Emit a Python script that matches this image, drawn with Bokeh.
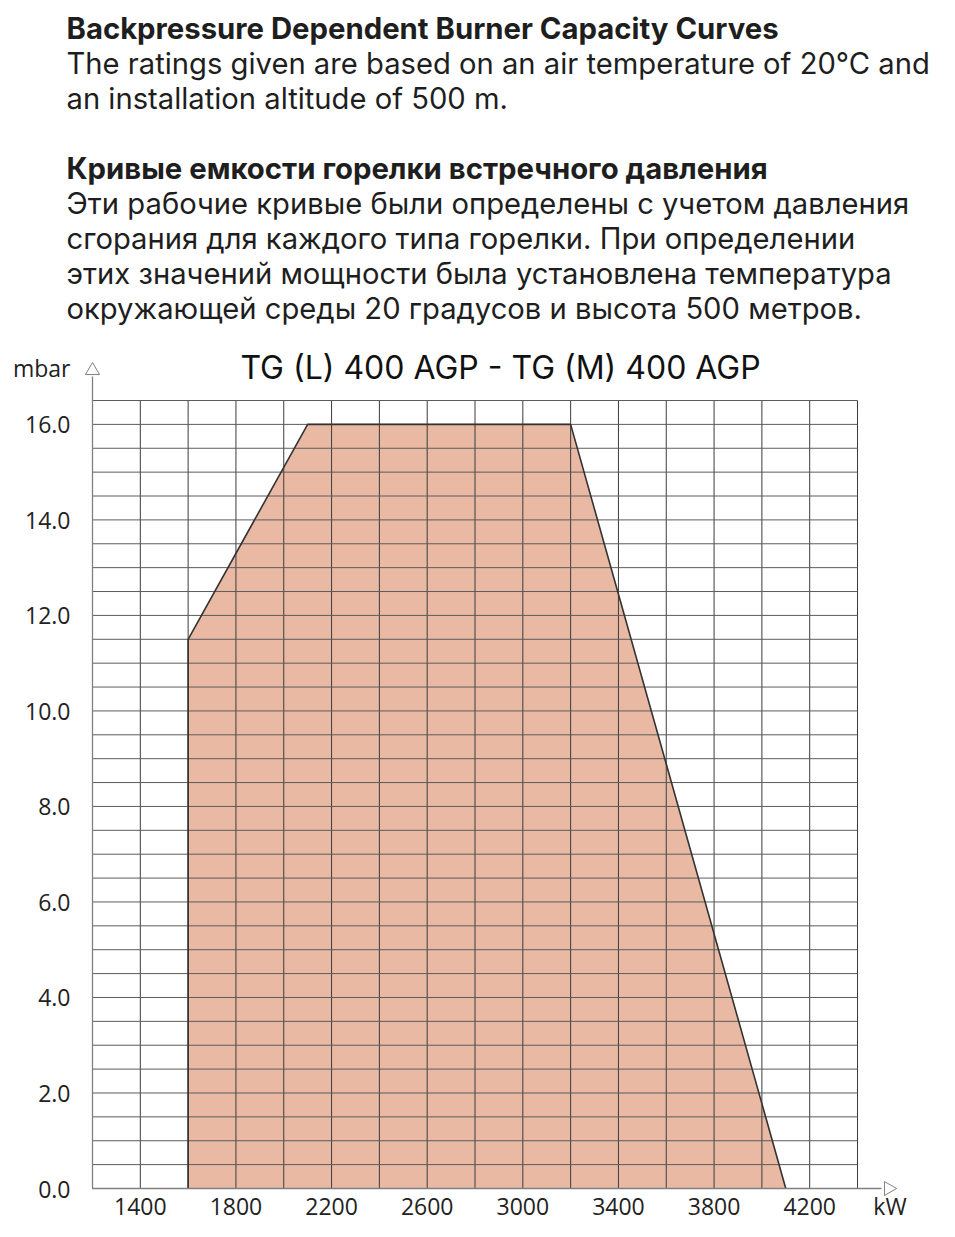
import math
from bokeh.plotting import figure
from bokeh.layouts import column
from bokeh.models import FixedTicker, PrintfTickFormatter, Range1d, Plot
from bokeh.core.properties import value
from bokeh.embed import file_html
from bokeh.resources import INLINE

# ---- data ----
capacity_kw = [1600, 1600, 2100, 3200, 4100]
pressure_mbar = [0.0, 11.5, 16.0, 16.0, 0.0]

x_tick_labels = [1400, 1800, 2200, 2600, 3000, 3400, 3800, 4200]
y_tick_labels = [0, 2, 4, 6, 8, 10, 12, 14, 16]
x_grid = list(range(1200, 4401, 200))
y_grid = [i * 0.5 for i in range(0, 34)]

chart_title = "TG (L) 400 AGP - TG (M) 400 AGP"
y_unit = "mbar"
x_unit = "kW"
header_en_bold = "Backpressure Dependent Burner Capacity Curves"
header_en = ["The ratings given are based on an air temperature of 20°C and",
             "an installation altitude of 500 m."]
header_ru_bold = "Кривые емкости горелки встречного давления"
header_ru = ["Эти рабочие кривые были определены с учетом давления",
             "сгорания для каждого типа горелки. При определении",
             "этих значений мощности была установлена температура",
             "окружающей среды 20 градусов и высота 500 метров."]

# ---- page geometry ----
PAGE_W = 950
HEAD_H = 335
MAIN_H = 895
X0, X1, Y1 = 1200, 4400, 16.5          # chart area (data)
CL, CR, CB, CT = 92, 857, 1188, 400     # page px of chart area
FL, FR, FT, FB = 84, 918, 340, 1196     # page px of plot frame
SX = (CR - CL) / (X1 - X0)
SY = (CB - CT) / Y1


def px_to_x(px):
    return X0 + (px - CL) / SX


def py_to_y(py):
    return (CB - py) / SY


TEXT = "#1e1e1e"
HFONT = "Inter"
TFONT = "Open Sans"

# ---- header figure (data units == page pixels) ----
hd = figure(width=PAGE_W, height=HEAD_H, x_range=Range1d(0, PAGE_W),
            y_range=Range1d(HEAD_H, 0), x_axis_type=None, y_axis_type=None,
            output_backend="svg", toolbar_location=None, title=None,
            min_border_left=0, min_border_right=0, min_border_top=0,
            min_border_bottom=0)
hd.outline_line_color = None
hd.xgrid.visible = False
hd.ygrid.visible = False

bold_lines = [header_en_bold, header_ru_bold]
bold_y = [28, 168]
reg_lines = header_en + header_ru
reg_y = [63, 98, 203, 238, 273, 308]
hd.text(x=[66] * len(bold_lines), y=bold_y, text=bold_lines,
        text_font=value(HFONT), text_font_style="bold", text_font_size="29.3px",
        text_color=TEXT, text_baseline="middle", text_align="left")
hd.text(x=[66] * len(reg_lines), y=reg_y, text=reg_lines,
        text_font=value(HFONT), text_font_size="29.2px",
        text_color=TEXT, text_baseline="middle", text_align="left")

# ---- chart figure ----
top0 = HEAD_H
p = figure(width=PAGE_W, height=MAIN_H,
           x_range=Range1d(px_to_x(FL), px_to_x(FR)),
           y_range=Range1d(py_to_y(FB), py_to_y(FT)),
           output_backend="svg", toolbar_location=None, title=None,
           min_border_left=FL, min_border_right=PAGE_W - FR,
           min_border_top=FT - top0, min_border_bottom=top0 + MAIN_H - FB)
p.outline_line_color = None
p.background_fill_color = "white"
p.border_fill_color = "white"
p.xgrid.visible = False
p.ygrid.visible = False

# fill
p.patch(capacity_kw, pressure_mbar, fill_color="#E9B9A3", line_color=None)

# grid lines (drawn over the fill)
p.segment(x0=x_grid, y0=[0] * len(x_grid), x1=x_grid, y1=[Y1] * len(x_grid),
          line_color="#3c3c3c", line_width=1)
p.segment(x0=[X0] * len(y_grid), y0=y_grid, x1=[X1] * len(y_grid), y1=y_grid,
          line_color="#5c5c5c", line_width=1)

# curve outline
p.line(capacity_kw, pressure_mbar, line_color="#333333", line_width=1.6)

# axis lines with hollow arrow heads
AX = "#808080"
p.segment(x0=[X0, X0], y0=[0, 0], x1=[X0, px_to_x(881)], y1=[py_to_y(376), 0],
          line_color=AX, line_width=1.3)
p.scatter(x=[X0], y=[py_to_y(370)], marker="triangle", size=14,
          fill_color="white", line_color=AX, line_width=1)
p.scatter(x=[px_to_x(888)], y=[0], marker="triangle", size=14, angle=-math.pi / 2,
          fill_color="white", line_color=AX, line_width=1)

# chart title
p.text(x=[px_to_x(500)], y=[py_to_y(367)], text=[chart_title],
       text_font=value(HFONT), text_font_size="32px", text_color="#111111",
       text_align="center", text_baseline="middle")

# axes: ticks + unit labels via overrides
y_unit_pos = 17.1875
x_unit_pos = 4536
p.xaxis.ticker = FixedTicker(ticks=x_tick_labels + [x_unit_pos])
p.yaxis.ticker = FixedTicker(ticks=y_tick_labels + [y_unit_pos])
p.yaxis.formatter = PrintfTickFormatter(format="%.1f")
p.xaxis.major_label_overrides = {x_unit_pos: x_unit}
p.yaxis.major_label_overrides = {y_unit_pos: y_unit}
for ax in (p.xaxis, p.yaxis):
    ax.axis_line_color = None
    ax.major_tick_line_color = None
    ax.minor_tick_line_color = None
    ax.major_label_text_font = TFONT
    ax.major_label_text_font_size = "23px"
    ax.major_label_text_color = "#222222"
p.xaxis.major_label_standoff = -13
p.yaxis.major_label_standoff = 8

if "frame_align" in Plot.properties():
    hd.frame_align = False
    p.frame_align = False
    out = file_html(column(hd, p, spacing=0), INLINE)
else:
    out = file_html([hd, p], INLINE)
open("out.html", "w").write(out)
